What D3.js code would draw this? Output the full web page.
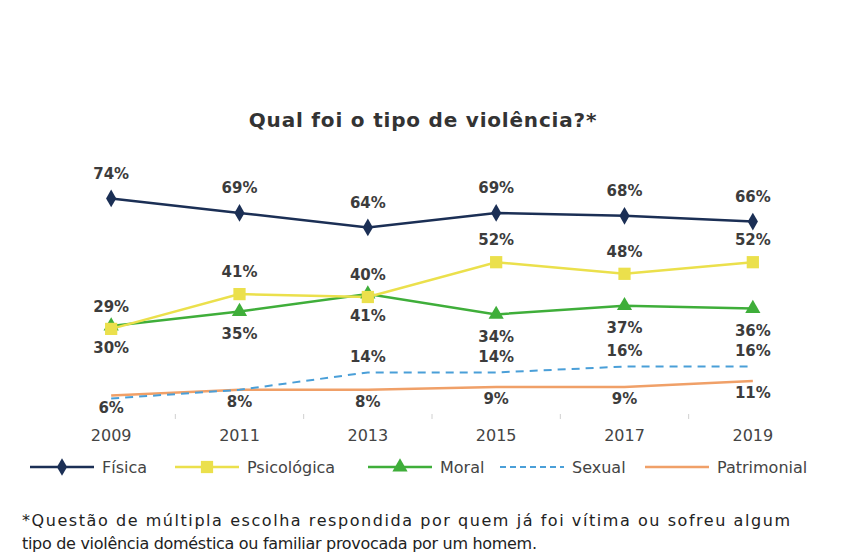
<!DOCTYPE html>
<html>
<head>
<meta charset="utf-8">
<script src="https://cdn.jsdelivr.net/npm/d3@7"></script>
<style>
  body { margin: 0; background: #fff; }
  svg { display: block; }
</style>
</head>
<body>
<div id="chart"></div>
<script>
// Data
const years = ["2009", "2011", "2013", "2015", "2017", "2019"];
const seriesNames = ["Física", "Psicológica", "Moral", "Sexual", "Patrimonial"];
const fisica = [74, 69, 64, 69, 68, 66];
const psicologica = [29, 41, 40, 52, 48, 52];
const moral = [30, 35, 41, 34, 37, 36];
const sexual = [5, 8, 14, 14, 16, 16];
const patrimonial = [6, 8, 8, 9, 9, 11];
// value labels shown on the chart (null = no label)
const fisicaLabels = ["74%", "69%", "64%", "69%", "68%", "66%"];
const psicologicaLabels = ["29%", "41%", "40%", "52%", "48%", "52%"];
const moralLabels = ["30%", "35%", "41%", "34%", "37%", "36%"];
const sexualLabels = [null, null, "14%", "14%", "16%", "16%"];
const patrimonialLabels = ["6%", "8%", "8%", "9%", "9%", "11%"];

const titleText = "Qual foi o tipo de violência?*";
const footnoteLines = [
    "*Questão de múltipla escolha respondida por quem já foi vítima ou sofreu algum",
    "tipo de violência  doméstica ou familiar provocada por um homem."
];

const width = 851, height = 554;

const svg = d3.select("#chart")
    .append("svg")
    .attr("width", width)
    .attr("height", height);

// Scales
const xScale = d3.scaleBand().domain(years).range([47, 817]).padding(0);
const yScale = d3.scaleLinear().domain([0, 100]).range([413, 123]);
const xc = d => xScale(d) + xScale.bandwidth() / 2;

// Series styles
const styles = {
    "Física":      { color: "#1b2f55", width: 2.5, dash: null,  marker: "diamond",  labelDy: -25 },
    "Psicológica": { color: "#ebe04c", width: 2.5, dash: null,  marker: "square",   labelDy: -22 },
    "Moral":       { color: "#3fae3a", width: 2.5, dash: null,  marker: "triangle", labelDy: 22 },
    "Sexual":      { color: "#4a9fd8", width: 2,   dash: "8,6", marker: null,       labelDy: -16 },
    "Patrimonial": { color: "#f0a068", width: 2.5, dash: null,  marker: null,       labelDy: 12 }
};

const series = [
    { name: "Física", values: fisica, labels: fisicaLabels },
    { name: "Psicológica", values: psicologica, labels: psicologicaLabels },
    { name: "Moral", values: moral, labels: moralLabels },
    { name: "Sexual", values: sexual, labels: sexualLabels },
    { name: "Patrimonial", values: patrimonial, labels: patrimonialLabels }
];

// Title
svg.append("text")
    .attr("x", 423)
    .attr("y", 127)
    .attr("text-anchor", "middle")
    .style("font-family", "'DejaVu Sans', sans-serif")
    .style("font-weight", "bold")
    .style("font-size", "20px")
    .style("letter-spacing", "0.8px")
    .style("fill", "#333")
    .text(titleText);

// X axis (labels only, small ticks between categories)
const xAxis = svg.append("g")
    .attr("transform", "translate(0, 424)")
    .call(d3.axisBottom(xScale).tickSize(0).tickPadding(6));
xAxis.select(".domain").remove();
xAxis.selectAll("text")
    .style("font-family", "'DejaVu Sans', sans-serif")
    .style("font-size", "16px")
    .style("fill", "#444");

svg.selectAll(".tick-mark")
    .data(years.slice(1))
    .join("line")
    .attr("class", "tick-mark")
    .attr("x1", d => xScale(d))
    .attr("x2", d => xScale(d))
    .attr("y1", 414)
    .attr("y2", 419)
    .attr("stroke", "#d0d0d0")
    .attr("stroke-width", 1);

// Line generator
const lineGenerator = d3.line()
    .x((d, i) => xc(years[i]))
    .y(d => yScale(d));

// Draw in reverse so Física is on top
const drawOrder = series.slice().reverse();

svg.selectAll(".series-line")
    .data(drawOrder)
    .join("path")
    .attr("class", "series-line")
    .attr("fill", "none")
    .attr("stroke", d => styles[d.name].color)
    .attr("stroke-width", d => styles[d.name].width)
    .attr("stroke-dasharray", d => styles[d.name].dash)
    .attr("d", d => lineGenerator(d.values));

const symbolFor = {
    diamond: d3.symbol().type(d3.symbolDiamond).size(90),
    square: d3.symbol().type(d3.symbolSquare).size(150),
    triangle: d3.symbol().type(d3.symbolTriangle).size(100)
};

drawOrder.forEach(s => {
    const st = styles[s.name];
    if (st.marker) {
        svg.selectAll(".m-" + st.marker)
            .data(s.values)
            .join("path")
            .attr("class", "m-" + st.marker)
            .attr("transform", (d, i) => `translate(${xc(years[i])},${yScale(d)})`)
            .attr("d", symbolFor[st.marker]())
            .attr("fill", st.color);
    }
});

// Value labels
series.forEach((s, k) => {
    const st = styles[s.name];
    svg.selectAll(".lbl-" + k)
        .data(s.values.map((v, i) => ({ v: v, i: i, t: s.labels[i] })).filter(d => d.t))
        .join("text")
        .attr("class", "lbl-" + k)
        .attr("x", d => xc(years[d.i]))
        .attr("y", d => yScale(d.v) + st.labelDy)
        .attr("dy", "0.35em")
        .attr("text-anchor", "middle")
        .style("font-family", "'DejaVu Sans', sans-serif")
        .style("font-weight", "bold")
        .style("font-size", "15px")
        .style("fill", "#3c3c3c")
        .text(d => d.t);
});

// Legend
const legendX = [30, 175, 368, 500, 645];
const legend = svg.append("g").attr("transform", "translate(0, 467)");
seriesNames.forEach((name, i) => {
    const st = styles[name];
    const g = legend.append("g").attr("transform", `translate(${legendX[i]}, 0)`);
    g.append("line")
        .attr("x1", 0).attr("x2", 64)
        .attr("stroke", st.color)
        .attr("stroke-width", st.width)
        .attr("stroke-dasharray", st.dash ? "6,4" : null);
    if (st.marker) {
        g.append("path")
            .attr("transform", "translate(32,0)")
            .attr("d", symbolFor[st.marker]())
            .attr("fill", st.color);
    }
    g.append("text")
        .attr("x", 72)
        .attr("dy", "0.35em")
        .style("font-family", "'DejaVu Sans', sans-serif")
        .style("font-size", "16px")
        .style("fill", "#444")
        .text(name);
});

// Footnote (line widths matched to the reference)
const footnoteWidths = [768, 515];
svg.selectAll(".footnote")
    .data(footnoteLines)
    .join("text")
    .attr("class", "footnote")
    .attr("x", 22)
    .attr("y", (d, i) => 526 + i * 23)
    .attr("textLength", (d, i) => footnoteWidths[i])
    .attr("lengthAdjust", "spacing")
    .style("font-family", "'DejaVu Sans', sans-serif")
    .style("font-size", "16px")
    .style("fill", "#222")
    .text(d => d);
</script>
</body>
</html>
